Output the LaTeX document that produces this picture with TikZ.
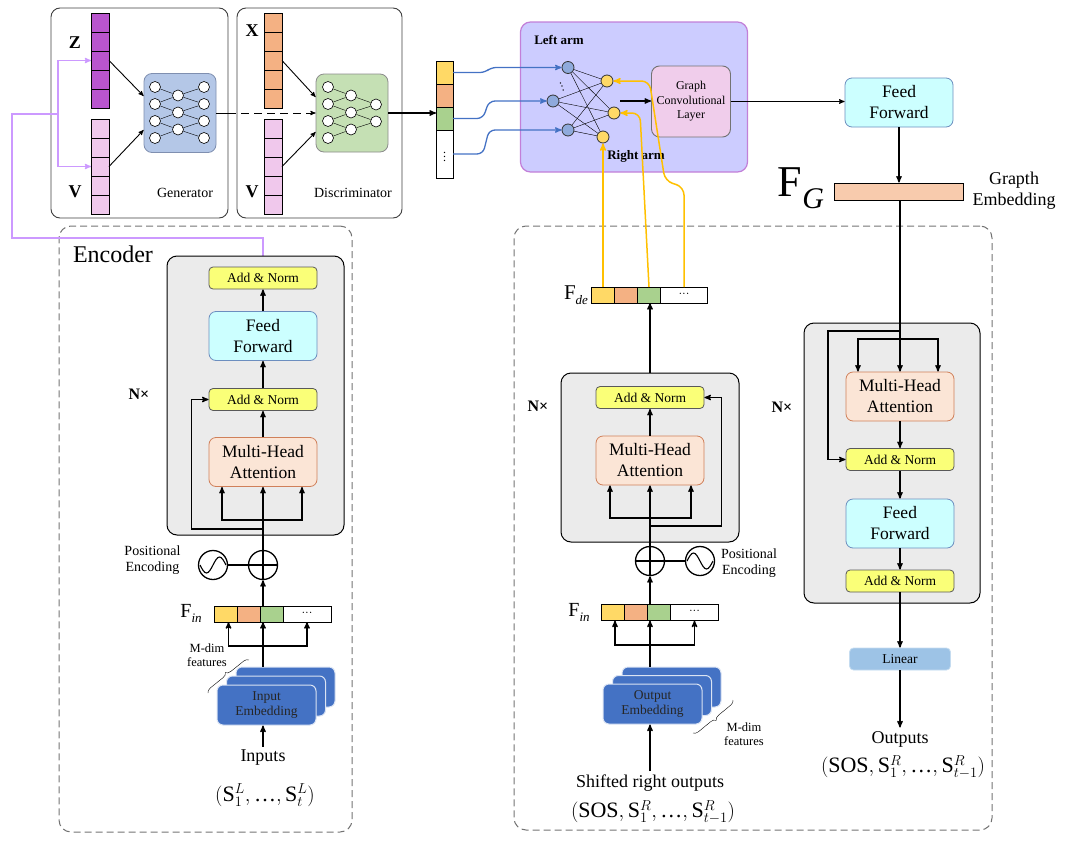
\documentclass[tikz,border=0pt]{standalone}
\usepackage{fontspec}
\setmainfont{Liberation Serif}
\usetikzlibrary{arrows,positioning,decorations.pathreplacing}
\definecolor{zpurple}{HTML}{B955CE}
\definecolor{vpink}{HTML}{F0C8EC}
\definecolor{xorange}{HTML}{F4B183}
\definecolor{cyellow}{HTML}{FFD966}
\definecolor{cgreen}{HTML}{A9D18E}
\definecolor{genblue}{HTML}{B4C7E7}
\definecolor{gendraw}{HTML}{7F8FB0}
\definecolor{discgreen}{HTML}{C5E0B4}
\definecolor{lilac}{HTML}{CC99FF}
\definecolor{armfill}{HTML}{CCCCFF}
\definecolor{armdraw}{HTML}{C27FD8}
\definecolor{nblue}{HTML}{8FAADC}
\definecolor{lblue}{HTML}{4472C4}
\definecolor{goldline}{HTML}{FFC000}
\definecolor{gclpink}{HTML}{F0CDEB}
\definecolor{ffcyan}{HTML}{CCFFFF}
\definecolor{ffdraw}{HTML}{6C8EBF}
\definecolor{peach}{HTML}{F8CBAD}
\definecolor{boxgray}{HTML}{EBEBEB}
\definecolor{mhafill}{HTML}{FBE5D6}
\definecolor{mhadraw}{HTML}{D0805A}
\definecolor{anyellow}{HTML}{FAFF78}
\definecolor{linblue}{HTML}{9DC3E6}
\definecolor{linedraw}{HTML}{C5DCF0}
\definecolor{embblue}{HTML}{4472C4}
\definecolor{embdraw}{HTML}{DAE3F3}

\begin{document}
\begin{tikzpicture}[x=1pt,y=-1pt,>=stealth',semithick]
  \tikzstyle{flow}=[->,line width=1.3pt]
  \tikzstyle{golden}=[->,draw=goldline,line width=1.5pt,rounded corners=8pt]
  \tikzstyle{bluish}=[->,draw=lblue,line width=1.3pt,rounded corners=6pt]
  \tikzstyle{frame}=[draw=black!55,dash pattern=on 7pt off 4pt,line width=1pt,rounded corners=12pt,inner sep=0pt]
  \tikzstyle{panel}=[draw=black!75,fill=white,line width=0.9pt,rounded corners=9pt,inner sep=0pt]
  \tikzstyle{stack}=[draw=black,fill=boxgray,line width=1pt,rounded corners=10pt,inner sep=0pt]
  \tikzstyle{vcell}=[draw=black,line width=0.8pt,inner sep=0pt,outer sep=0pt,minimum width=18pt,minimum height=19pt]
  \tikzstyle{cell}=[draw=black,line width=0.8pt,inner sep=0pt,outer sep=0pt,minimum width=23pt,minimum height=16pt,font=\fontsize{11}{11}\selectfont]
  \tikzstyle{net}=[rounded corners=8pt,line width=0.8pt,inner sep=0pt]
  \tikzstyle{neuron}=[circle,draw=black,fill=white,line width=0.6pt,inner sep=0pt,minimum size=11pt]
  \tikzstyle{unit}=[circle,draw=black!80,line width=0.8pt,inner sep=0pt,minimum size=12pt]
  \tikzstyle{addnorm}=[draw=black!65,fill=anyellow,line width=0.8pt,rounded corners=4pt,minimum width=108pt,minimum height=22pt,inner sep=0pt,font=\fontsize{13.5}{15}\selectfont]
  \tikzstyle{ff}=[draw=ffdraw,fill=ffcyan,line width=0.8pt,rounded corners=7pt,minimum width=108pt,minimum height=49pt,inner sep=0pt,align=center,font=\fontsize{17.5}{21}\selectfont]
  \tikzstyle{mha}=[ff,draw=mhadraw,fill=mhafill]
  \tikzstyle{embed}=[draw=embdraw,fill=embblue,line width=1pt,rounded corners=6pt,minimum width=99pt,minimum height=40pt,inner sep=0pt,align=center,text=black!85,font=\fontsize{13.5}{15}\selectfont]
  \tikzstyle{ring}=[circle,draw=black,line width=1.3pt,minimum size=29pt,inner sep=0pt]
  \tikzstyle{lbl}=[font=\bfseries\fontsize{18}{18}\selectfont]
  \tikzstyle{nx}=[font=\bfseries\fontsize{16}{16}\selectfont]
  \tikzstyle{captxt}=[font=\fontsize{14}{16}\selectfont]
  \tikzstyle{note}=[align=center,font=\fontsize{12.5}{14}\selectfont]
  \tikzstyle{big}=[align=center,font=\fontsize{18}{21}\selectfont]
  \tikzstyle{seq}=[font=\fontsize{22}{24}\selectfont]
  \tikzstyle{armlbl}=[font=\bfseries\fontsize{13}{15}\selectfont]

  \useasboundingbox (0,0) rectangle (1077,841);

  % dashed frames
  \node[frame,minimum width=293pt,minimum height=606pt] (encframe) at (205.5,529) {};
  \node[frame,minimum width=478pt,minimum height=604pt] (decframe) at (753,528) {};

  % GAN part
  \node[panel,minimum width=177pt,minimum height=210pt] (genbox) at (139.5,113) {};
  \node[panel,minimum width=165pt,minimum height=210pt] (discbox) at (319.5,113) {};
  \foreach \i in {0,...,4} {
    \node[vcell,fill=zpurple] (z\i) at (100,22.5+19*\i) {};
    \node[vcell,fill=vpink] (gv\i) at (100,128.5+19*\i) {};
    \node[vcell,fill=xorange] (x\i) at (273,22.5+19*\i) {};
    \node[vcell,fill=vpink] (dv\i) at (273,128.5+19*\i) {};
  }
  \node[lbl] (zlbl) at (75,43) {Z};
  \node[lbl] (gvlbl) at (75,192) {V};
  \node[lbl] (xlbl) at (252,31) {X};
  \node[lbl] (dvlbl) at (252,192) {V};
  \node[captxt] (genlbl) at (185,193) {Generator};
  \node[captxt] (disclbl) at (353,193) {Discriminator};

  \node[net,draw=gendraw,fill=genblue,minimum width=72pt,minimum height=79pt] (gnet) at (180,113) {};
  \foreach \j/\y in {1/87,2/104,3/121,4/138} {
    \node[neuron] (ga\j) at (155,\y) {};
    \node[neuron] (gc\j) at (204,\y) {};
  }
  \foreach \j/\y in {1/95.5,2/112.5,3/129.5} \node[neuron] (gb\j) at (178,\y) {};
  \foreach \a/\b in {1/1,2/1,2/2,3/2,3/3,4/3} {
    \draw[thin] (ga\a) -- (gb\b);
    \draw[thin] (gb\b) -- (gc\a);
  }

  \node[net,draw=black!45,fill=discgreen,minimum width=72pt,minimum height=78pt] (dnet) at (352,113) {};
  \foreach \j/\y in {1/87,2/104,3/121,4/138} \node[neuron] (da\j) at (328,\y) {};
  \foreach \j/\y in {1/95.5,2/112.5,3/129.5} \node[neuron] (db\j) at (351,\y) {};
  \foreach \j/\y in {1/104.5,2/121.5} \node[neuron] (dc\j) at (376,\y) {};
  \foreach \a/\b in {1/1,2/1,2/2,3/2,3/3,4/3} \draw[thin] (da\a) -- (db\b);
  \foreach \a/\b in {1/1,2/1,2/2,3/2} \draw[thin] (db\a) -- (dc\b);

  \draw[->,line width=0.9pt] (z2.east) -- ([yshift=17pt]gnet.west);
  \draw[->,line width=0.9pt] (gv2.east) -- ([yshift=-17pt]gnet.west);
  \draw[->,line width=0.9pt] (x2.east) -- ([yshift=16pt]dnet.west);
  \draw[->,line width=0.9pt] (dv2.east) -- ([yshift=-19pt]dnet.west);
  \draw[line width=0.9pt] (gnet.east) -- (genbox.east |- gnet.east);
  \draw[->,line width=0.9pt,dash pattern=on 8pt off 5pt] (genbox.east |- gnet.east) -- (dnet.west);

  % feedback from the encoder
  \coordinate (pfold) at (12,238);
  \coordinate (pfork) at (58,114);
  \draw[lilac,line width=1.2pt] (pfork) -| (pfold) -| (263,267);
  \draw[lilac,->,line width=1.2pt] (pfork) |- (z2.west);
  \draw[lilac,->,line width=1.2pt] (pfork) |- (gv2.west);

  % feature vector
  \node[cell,minimum width=17pt,minimum height=23pt,fill=cyellow] (m1) at (444.5,72.5) {};
  \node[cell,minimum width=17pt,minimum height=23pt,fill=xorange,below=0pt of m1] (m2) {};
  \node[cell,minimum width=17pt,minimum height=23pt,fill=cgreen,below=0pt of m2] (m3) {};
  \node[cell,minimum width=17pt,minimum height=48pt,fill=white,below=0pt of m3,font=\fontsize{12}{12}\selectfont] (m4) {$\vdots$};
  \draw[flow] (dnet.east) -- (dnet.east -| m3.west);

  % arms
  \node[draw=armdraw,fill=armfill,line width=1.2pt,rounded corners=10pt,minimum width=227pt,minimum height=150pt] (arm) at (634,97) {};
  \node[armlbl] (leftlbl) at (559,40) {Left arm};
  \node[armlbl] (rightlbl) at (636,156) {Right arm};
  \node[unit,fill=nblue] (b1) at (568,67.5) {};
  \node[unit,fill=nblue] (b2) at (553,101) {};
  \node[unit,fill=nblue] (b3) at (568,130) {};
  \node[unit,fill=cyellow] (y1) at (607,81) {};
  \node[unit,fill=cyellow] (y2) at (614,113) {};
  \node[unit,fill=cyellow] (y3) at (603,137) {};
  \foreach \i in {1,2,3}
    \foreach \j in {1,2,3}
      \draw[thin] (b\i) -- (y\j);
  \node[rotate=20,font=\fontsize{12}{12}\selectfont] (bdots) at (561,84) {$\vdots$};

  \draw[bluish,rounded corners=5pt] (m1.east) -- ++(32,0) -- ++(6,-5) -- (b1.west);
  \draw[bluish] (m3.east) -- ++(30,0) -- ++(6,-17.5) -- (b2.west);
  \draw[bluish] (m4.east) -- ++(30,0) -- ++(6,-24) -- (b3.west);

  \node[draw=black!55,fill=gclpink,line width=0.9pt,rounded corners=8pt,minimum width=79pt,minimum height=71pt,align=center,font=\fontsize{12}{14.5}\selectfont] (gcl) at (691,101.5) {Graph\\Convolutional\\Layer};
  \coordinate (armout) at (620,101);
  \draw[flow] (armout) -- (armout -| gcl.west);

  % graph embedding
  \node[ff] (ff0) at (899,102.5) {Feed\\Forward};
  \draw[->,line width=1pt] (gcl.east) -- (gcl.east -| ff0.west);
  \node[draw=black,fill=peach,line width=0.8pt,minimum width=129pt,minimum height=17pt,inner sep=0pt] (fg) at (898.5,191.5) {};
  \draw[flow] (ff0.south) -- (ff0.south |- fg.north);
  \node (fglbl) at (801,188) {\fontsize{44}{44}\selectfont F\raisebox{-12pt}{\fontsize{30}{30}\selectfont\itshape G}};
  \node[big] (fgtxt) at (1014,191) {Grapth\\Embedding};

  % encoder
  \node[font=\fontsize{24}{24}\selectfont] (enclbl) at (113,254) {Encoder};
  \node[stack,minimum width=177pt,minimum height=279pt] (ebox) at (255.5,395.5) {};
  \node[addnorm] (ean2) at (263,278) {Add \& Norm};
  \node[ff] (eff) at (263,336) {Feed\\Forward};
  \node[addnorm] (ean1) at (263,399.5) {Add \& Norm};
  \node[mha] (emha) at (263,462) {Multi-Head\\Attention};
  \node[nx] (enx) at (139,394) {N×};
  \path[flow] (emha) edge (ean1)
              (ean1) edge (eff)
              (eff) edge (ean2);

  \node[ring] (eplus) at (263,565) {};
  \draw[line width=1.6pt] (eplus.north) -- (eplus.south) (eplus.west) -- (eplus.east);
  \node[ring] (esin) at (213,565) {};
  \draw[line width=1.1pt] (esin.center) ++(-13,0) sin ++(6.5,8) cos ++(6.5,-8) sin ++(6.5,-8) cos ++(6.5,8);
  \draw[line width=1.3pt] (esin.east) -- (eplus.west);
  \node[captxt,align=center] (epos) at (152.5,560) {Positional\\Encoding};

  \coordinate (efan) at (263,520);
  \coordinate (eres) at (263,529);
  \draw[flow] (eplus.north) -- (emha.south);
  \draw[flow] (efan) -| ([xshift=-41pt]emha.south);
  \draw[flow] (efan) -| ([xshift=39pt]emha.south);
  \draw[flow] (eres) -| ([xshift=-17pt]ean1.west) -- (ean1.west);

  \node[cell,fill=cyellow] (ein1) at (225.5,614) {};
  \node[cell,fill=xorange,right=0pt of ein1] (ein2) {};
  \node[cell,fill=cgreen,right=0pt of ein2] (ein3) {};
  \node[cell,minimum width=48pt,right=0pt of ein3] (ein4) {···};
  \node (einlbl) at (191,613) {\fontsize{20}{20}\selectfont F\raisebox{-5pt}{\fontsize{13}{13}\selectfont\itshape in}};
  \draw[flow] (eplus.south |- ein1.north) -- (eplus.south);

  \node[embed] (eemb3) at (285.5,687) {};
  \node[embed] (eemb2) at (276,696) {};
  \node[embed] (eemb1) at (266.5,705) {Input\\Embedding};
  \coordinate (efan2) at (263,646);
  \draw[flow] (eplus.south |- eemb3.north) -- (eplus.south |- ein1.south);
  \draw[flow] (efan2) -| ([xshift=3pt]ein1.south);
  \draw[flow] (efan2) -| (ein4.south);
  \node[note] (emdim) at (207,655) {M-dim\\features};
  \draw[thin,decorate,decoration={brace,amplitude=5pt}] (208,693) -- (249,660);

  \node[big] (einp) at (263,758) {Inputs};
  \draw[flow] (einp.north) -- (einp.north |- eemb1.south);
  \node[seq] (eseq) at (265,795) {$(\mathrm{S}_1^{L},\mbox{…},\mathrm{S}_t^{L})$};

  % decoder, left column
  \node[cell,fill=cyellow] (fde1) at (603,295) {};
  \node[cell,fill=xorange,right=0pt of fde1] (fde2) {};
  \node[cell,fill=cgreen,right=0pt of fde2] (fde3) {};
  \node[cell,minimum width=47pt,right=0pt of fde3] (fde4) {···};
  \node (fdelbl) at (576,295) {\fontsize{21}{21}\selectfont F\raisebox{-5pt}{\fontsize{13}{13}\selectfont\itshape de}};

  \path[golden] (fde1) edge (y3);
  \draw[golden] (fde3.north) -- ([xshift=-9pt]fde3.north |- y2.east) -- (y2.east);
  \draw[golden] (fde4.north) -- ++(0,-100) -- ++(-19,-6) -- ([xshift=36pt]y1.east) -- (y1.east);

  \node[stack,minimum width=178pt,minimum height=169pt] (lbox) at (650,457.5) {};
  \node[addnorm] (lan) at (650,397.5) {Add \& Norm};
  \node[mha] (lmha) at (650,460.5) {Multi-Head\\Attention};
  \node[nx] (lnx) at (538,406) {N×};
  \path[flow] (lmha) edge (lan);
  \draw[flow] (lbox.north) -- (lbox.north |- fde3.south);

  \node[ring] (lplus) at (650,561) {};
  \draw[line width=1.6pt] (lplus.north) -- (lplus.south) (lplus.west) -- (lplus.east);
  \node[ring] (lsin) at (700,561) {};
  \draw[line width=1.1pt] (lsin.center) ++(-13,0) sin ++(6.5,-8) cos ++(6.5,8) sin ++(6.5,8) cos ++(6.5,-8);
  \draw[line width=1.3pt] (lplus.east) -- (lsin.west);
  \node[captxt,align=center] (lpos) at (749,563) {Positional\\Encoding};

  \coordinate (lfan) at (650,518);
  \coordinate (lres) at (650,526);
  \draw[flow] (lplus.north) -- (lmha.south);
  \draw[flow] (lfan) -| ([xshift=-40pt]lmha.south);
  \draw[flow] (lfan) -| ([xshift=41pt]lmha.south);
  \draw[flow] (lres) -| ([xshift=17pt]lan.east) -- (lan.east);

  \node[cell,fill=cyellow] (dfin1) at (613,612.5) {};
  \node[cell,fill=xorange,right=0pt of dfin1] (dfin2) {};
  \node[cell,fill=cgreen,right=0pt of dfin2] (dfin3) {};
  \node[cell,minimum width=48pt,right=0pt of dfin3] (dfin4) {···};
  \node (dfinlbl) at (579,612) {\fontsize{20}{20}\selectfont F\raisebox{-5pt}{\fontsize{13}{13}\selectfont\itshape in}};
  \draw[flow] (lplus.south |- dfin1.north) -- (lplus.south);

  \node[embed] (demb3) at (671.5,687) {};
  \node[embed] (demb2) at (662,695.5) {};
  \node[embed] (demb1) at (652.5,704) {Output\\Embedding};
  \coordinate (dfan) at (650,645);
  \draw[flow] (lplus.south |- demb3.north) -- (lplus.south |- dfin1.south);
  \draw[flow] (dfan) -| ([xshift=2pt]dfin1.south);
  \draw[flow] (dfan) -| (dfin4.south);
  \node[note] (dmdim) at (744,734) {M-dim\\features};
  \draw[thin,decorate,decoration={brace,amplitude=5pt}] (733,700) -- (693,733);

  \node[big] (shift) at (650,783) {Shifted right outputs};
  \draw[flow] (shift.north) -- (shift.north |- demb1.south);
  \node[seq] (shiftseq) at (653,812) {$(\mathrm{SOS},\mathrm{S}_1^{R},\mbox{…},\mathrm{S}_{t-1}^{R})$};

  % decoder, right column
  \node[stack,minimum width=176pt,minimum height=280pt] (rbox) at (892,463) {};
  \node[mha] (rmha) at (900,396.5) {Multi-Head\\Attention};
  \node[addnorm] (ran1) at (900,459.5) {Add \& Norm};
  \node[ff] (rff) at (900,523.5) {Feed\\Forward};
  \node[addnorm] (ran2) at (900,581) {Add \& Norm};
  \node[nx] (rnx) at (782,407) {N×};
  \node[draw=linedraw,fill=linblue,line width=0.8pt,rounded corners=4pt,minimum width=101pt,minimum height=22pt,inner sep=0pt,font=\fontsize{13.5}{15}\selectfont] (lin) at (900,659) {Linear};
  \node[big] (outs) at (900,739) {Outputs};
  \node[seq] (outseq) at (903,767) {$(\mathrm{SOS},\mathrm{S}_1^{R},\mbox{…},\mathrm{S}_{t-1}^{R})$};

  \coordinate (rsplit) at (900,331);
  \coordinate (rres) at (828,331);
  \coordinate (rfan) at (900,339);
  \draw[flow] (fg.south -| rmha.north) -- (rmha.north);
  \draw[flow] (rsplit) -- (rres) |- (ran1.west);
  \draw[flow] (rfan) -| ([xshift=-42pt]rmha.north);
  \draw[flow] (rfan) -| ([xshift=38pt]rmha.north);
  \path[flow] (rmha) edge (ran1)
              (ran1) edge (rff)
              (rff) edge (ran2)
              (ran2) edge (lin)
              (lin) edge (outs);
\end{tikzpicture}
\end{document}
